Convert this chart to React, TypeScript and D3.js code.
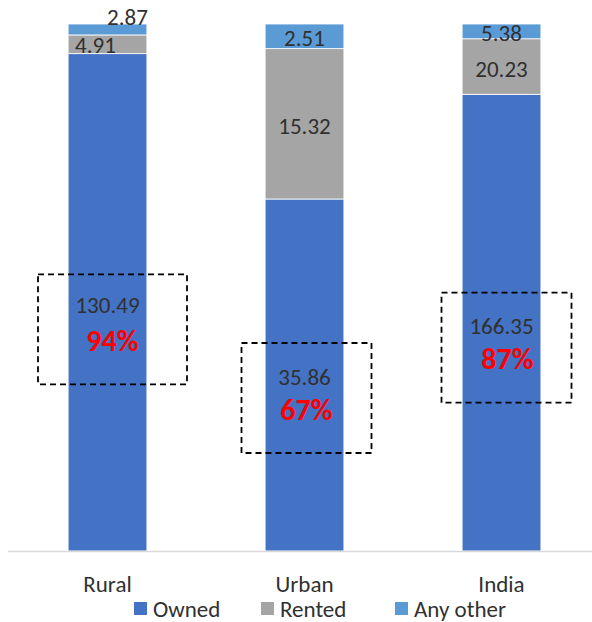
import React from "react";
import * as d3 from "d3";

// Household dwelling ownership (millions), by area
const categories = ["Rural", "Urban", "India"];
const owned = [130.49, 35.86, 166.35];
const rented = [4.91, 15.32, 20.23];
const anyOther = [2.87, 2.51, 5.38];
const ownedShareLabels = ["94%", "67%", "87%"];
const seriesNames = ["Owned", "Rented", "Any other"];

const W = 592;
const H = 622;
const COLORS = ["#4472C4", "#A5A5A5", "#5B9BD5"];
const FONT = "Carlito, Lato, 'Open Sans', sans-serif";
const TEXT = "#303030";

export default function App() {
  const x = d3.scaleBand<string>().domain(categories).range([9, 600]).paddingInner(0.6).paddingOuter(0.3);
  const y = d3.scaleLinear().domain([0, 1]).range([551, 24]);

  const rows = categories.map((c, i) => {
    const total = owned[i] + rented[i] + anyOther[i];
    return { cat: c, Owned: owned[i] / total, Rented: rented[i] / total, "Any other": anyOther[i] / total, raw: [owned[i], rented[i], anyOther[i]] };
  });
  const stack = d3.stack<any>().keys(seriesNames);
  const layers = stack(rows);

  const bw = x.bandwidth();
  // Small segments in the Rural bar get nudged labels so they stay readable
  const labelNudge: Record<string, [number, number][]> = {
    Rural: [[0, 3], [-12, 1], [20, -12]],
    Urban: [[0, 2], [0, 2], [0, 2]],
    India: [[0, 3], [0, 2], [0, 2]],
  };
  const pctShift: Record<string, [number, number]> = { Rural: [5, 38], Urban: [2, 34], India: [6, 36] };
  const boxWidth: Record<string, number> = { Rural: 149, Urban: 130, India: 130 };
  const boxShift: Record<string, [number, number]> = { Rural: [5, -28], Urban: [2, -32], India: [5, -30] };

  return (
    <svg width={W} height={H} style={{ position: "absolute", left: 0, top: 0, background: "#fff" }}>
      {layers.map((layer, si) =>
        layer.map((seg, ci) => {
          const cat = categories[ci];
          const x0 = x(cat)!;
          return (
            <rect key={`${si}-${ci}`} x={x0} y={y(seg[1])} width={bw} height={y(seg[0]) - y(seg[1])}
              fill={COLORS[si]} stroke="#ffffff" strokeWidth={0.8} />
          );
        })
      )}
      <line x1={8} x2={W} y1={551.5} y2={551.5} stroke="#d9d9d9" strokeWidth={1.3} />

      {layers.map((layer, si) =>
        layer.map((seg, ci) => {
          const cat = categories[ci];
          const cx = x(cat)! + bw / 2 + labelNudge[cat][si][0];
          const cy = (y(seg[0]) + y(seg[1])) / 2 + labelNudge[cat][si][1];
          return (
            <text key={`l${si}-${ci}`} x={cx} y={cy} textAnchor="middle" dominantBaseline="central"
              fontFamily={FONT} fontSize={23} fill={TEXT}>
              {rows[ci].raw[si].toFixed(2)}
            </text>
          );
        })
      )}

      {layers[0].map((seg, ci) => {
        const cat = categories[ci];
        const mid = (y(seg[0]) + y(seg[1])) / 2;
        const cx = x(cat)! + bw / 2;
        const bwid = boxWidth[cat];
        const [dx, dy] = boxShift[cat];
        const [px, py] = pctShift[cat];
        return (
          <g key={`b${ci}`}>
            <rect x={cx + dx - bwid / 2} y={mid + dy} width={bwid} height={110} fill="none"
              stroke="#000" strokeWidth={1.8} strokeDasharray="6 4" />
            <text x={cx + px} y={mid + py} textAnchor="middle" dominantBaseline="central"
              fontFamily={FONT} fontSize={30} fontWeight="bold" fill="#FF0000">
              {ownedShareLabels[ci]}
            </text>
          </g>
        );
      })}

      {categories.map((c) => (
        <text key={c} x={x(c)! + bw / 2} y={584} textAnchor="middle" dominantBaseline="central"
          fontFamily={FONT} fontSize={23} fill={TEXT}>
          {c}
        </text>
      ))}

      {seriesNames.map((s, i) => {
        const lx = [134, 261, 395][i];
        return (
          <g key={s}>
            <rect x={lx} y={602} width={13} height={13} fill={COLORS[i]} />
            <text x={lx + 19} y={609} dominantBaseline="central" fontFamily={FONT} fontSize={23} fill={TEXT}>
              {s}
            </text>
          </g>
        );
      })}
    </svg>
  );
}
